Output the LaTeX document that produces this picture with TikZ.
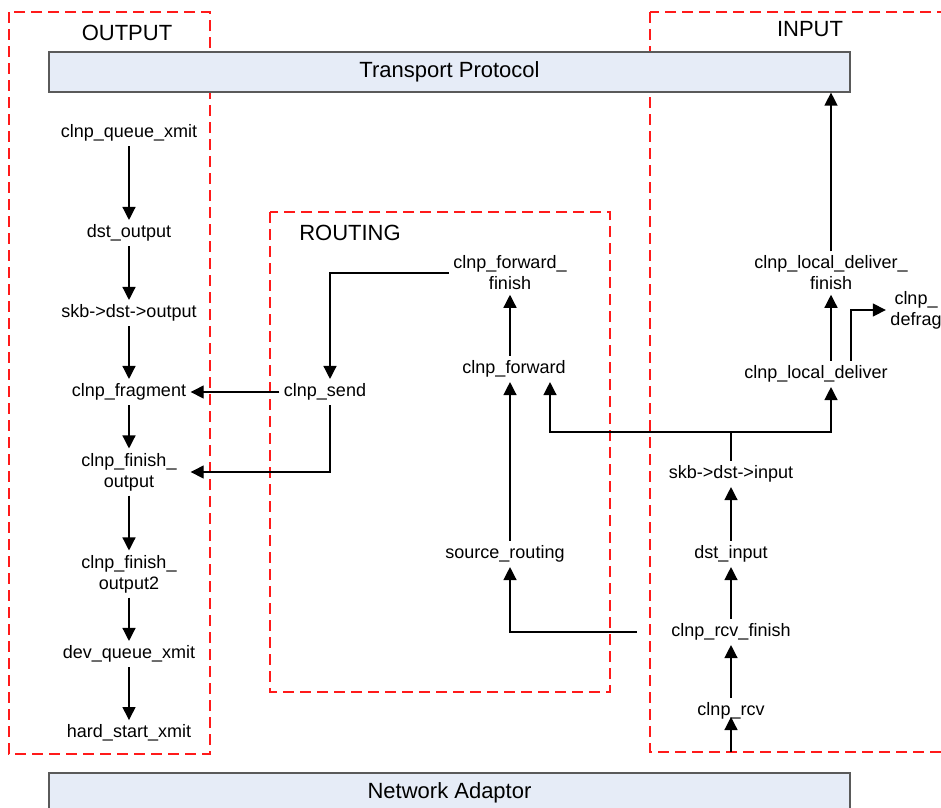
\documentclass[tikz,border=0pt]{standalone}
\usepackage{fontspec}
\setmainfont{Liberation Sans}
\usetikzlibrary{arrows.meta}
\definecolor{busblue}{HTML}{E6ECF7}
\definecolor{busgray}{HTML}{5A5A5A}
\definecolor{grpred}{HTML}{FF1A1A}
\begin{document}
\begin{tikzpicture}[x=1pt, y=-1pt, line width=1.3pt,
  fn/.style={font=\fontsize{18}{21}\selectfont, align=center, inner sep=4pt},
  title/.style={font=\fontsize{22}{26}\selectfont, inner sep=0pt},
  bus/.style={draw=busgray, fill=busblue, line width=1.2pt, minimum width=801pt,
    minimum height=40pt, inner sep=0pt, font=\fontsize{22}{26}\selectfont},
  grp/.style={draw=grpred, dash pattern=on 11pt off 6pt, line width=1.3pt},
  arr/.style={-{Triangle[width=13pt,length=13pt]}}]
 \clip (0,0) rectangle (941,807);
 % the three dashed frames
 \draw[grp] (9,12) rectangle (210,754);
 \draw[grp] (270,212) rectangle (610,692);
 \draw[grp] (650,12) rectangle (960,752);
 \node[title] (outt) at (127,33) {OUTPUT};
 \node[title] (rtt) at (350,233) {ROUTING};
 \node[title] (int) at (810,29) {INPUT};
 \node[bus] (tp) at (449.5,72) {Transport Protocol};
 \node[bus] (na) at (449.5,793) {Network Adaptor};

 % output path
 \node[fn] (qx) at (129,133) {clnp\_queue\_xmit};
 \node[fn] (dout) at (129,233) {dst\_output};
 \node[fn] (sdo) at (129,313) {skb->dst->output};
 \node[fn] (frag) at (129,392) {clnp\_fragment};
 \node[fn] (fo) at (129,472) {clnp\_finish\_\\output};
 \node[fn] (fo2) at (129,574) {clnp\_finish\_\\output2};
 \node[fn] (dqx) at (129,654) {dev\_queue\_xmit};
 \node[fn] (hsx) at (129,733) {hard\_start\_xmit};
 \foreach \a/\b in {qx/dout, dout/sdo, sdo/frag, frag/fo, fo/fo2, fo2/dqx, dqx/hsx}
   \draw[arr] (\a) -- (\b);

 % routing
 \node[fn] (send) at (325,392) {clnp\_send};
 \node[fn] (ff) at (510,273) {clnp\_forward\_\\finish};
 \node[fn] (fwd) at (514,369) {clnp\_forward};
 \node[fn] (sr) at (505,554) {source\_routing};
 \draw[arr] (send) -- (frag);
 \draw[arr] ([xshift=5pt]send.south) |- (frag.east |- fo.east);
 \draw[arr] (ff.west) -| ([xshift=5pt]send.north);
 \draw[arr] (fwd.north -| ff) -- (ff.south);
 \draw[arr] (sr.north -| ff) -- (fwd.south -| ff);

 % input path
 \node[fn] (ldf) at (831,273) {clnp\_local\_deliver\_\\finish};
 \node[fn] (ld) at (816,374) {clnp\_local\_deliver};
 \node[fn] (df) at (916,310) {clnp\_\\defrag};
 \node[fn] (si) at (731,474) {skb->dst->input};
 \node[fn] (di) at (731,554) {dst\_input};
 \node[fn] (rf) at (731,632) {clnp\_rcv\_finish};
 \node[fn] (rcv) at (731,711) {clnp\_rcv};
 \coordinate (jn) at (731,432);
 \coordinate (rin) at (731,752);
 \draw[arr] (rin) -- ([yshift=-6pt]rcv.center);
 \foreach \a/\b in {rcv/rf, rf/di, di/si}
   \draw[arr] (\a) -- (\b);
 \draw (si.north) -- (jn);
 \draw[arr] (jn) -| ([xshift=36pt]fwd.south);
 \draw[arr] (jn) -| (ld.south -| ldf);
 \draw[arr] ([xshift=-30pt]rf.west) -| (sr.south -| ff);
 \draw[arr] (ld.north -| ldf) -- (ldf.south);
 \draw[arr] ([xshift=35pt]ld.north) |- (df.west);
 \draw[arr] (ldf.north) -- (ldf.north |- tp.south);
\end{tikzpicture}
\end{document}
